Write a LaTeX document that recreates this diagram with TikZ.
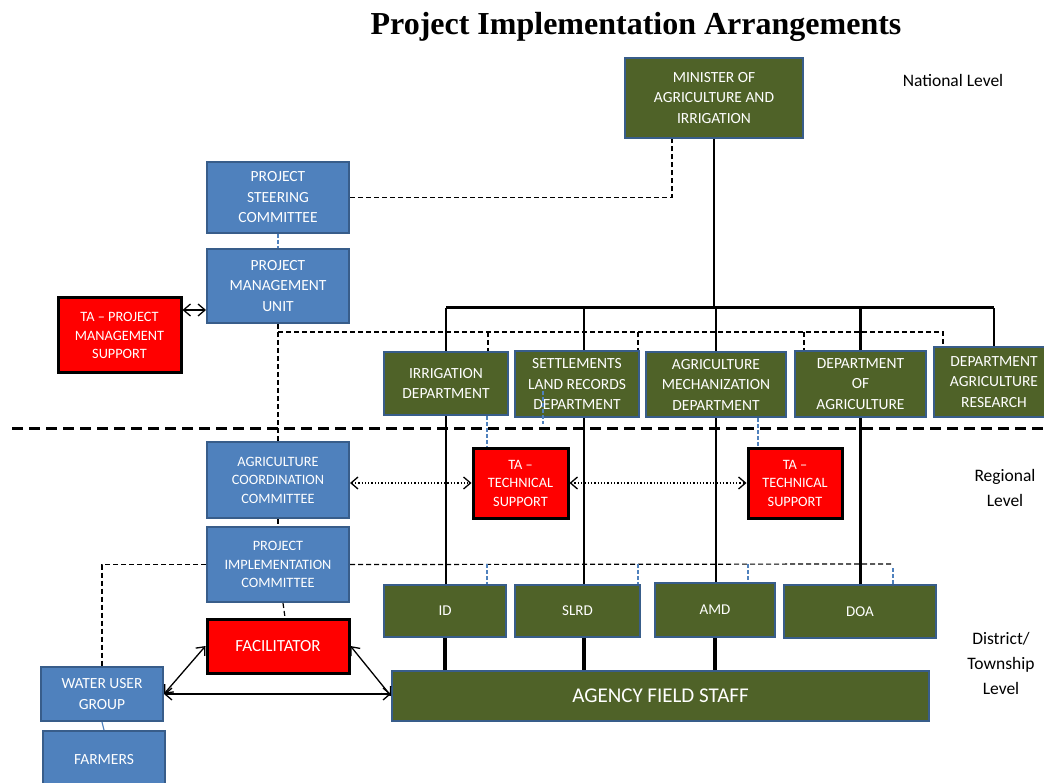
\documentclass[tikz,border=0pt]{standalone}
\usepackage{fontspec}
\setmainfont{Carlito}
\newfontfamily\titlefont{Liberation Serif}
\usetikzlibrary{arrows.meta}

\definecolor{olivebox}{HTML}{4F6228}
\definecolor{bluebox}{HTML}{4F81BD}
\definecolor{boxedge}{HTML}{385D8A}
\definecolor{tared}{HTML}{FF0000}

\begin{document}
\begin{tikzpicture}[x=1pt, y=-1pt,
    unit/.style={draw=boxedge, line width=2pt, text=white, align=center, inner sep=1pt},
    oliveunit/.style={unit, fill=olivebox},
    blueunit/.style={unit, fill=bluebox},
    redunit/.style={unit, fill=tared, draw=black, line width=3pt},
    bigtext/.style={font=\fontsize{15.5}{20.5}\selectfont},
    smalltext/.style={font=\fontsize{14.3}{18.5}\selectfont},
    lvltext/.style={font=\fontsize{17.5}{25}\selectfont, align=center},
    orgline/.style={line width=2.5pt},
    dashline/.style={dash pattern=on 5pt off 3pt, line width=1.2pt},
    bluedash/.style={draw=bluebox, dash pattern=on 4pt off 2pt, line width=1.2pt},
    link/.style={{Straight Barb[length=7pt,width=12pt]}-{Straight Barb[length=7pt,width=12pt]}, line width=1.3pt},
    dotlink/.style={link, dotted}]

  \useasboundingbox (0,0) rectangle (1044,783);
  \clip (0,0) rectangle (1044,783);

  \node[anchor=base, font=\titlefont\bfseries\fontsize{32}{36}\selectfont] (title) at (636,35) {Project Implementation Arrangements};

  % levels
  \node[lvltext] (national) at (953,80) {National Level};
  \node[lvltext] (regional) at (1005,488) {Regional\\Level};
  \node[lvltext] (district) at (1001,663) {District/\\Township\\Level};

  % national level
  \begin{scope}[every node/.append style={bigtext}]
    \node[oliveunit, minimum width=178, minimum height=80] (minister) at (714,98) {MINISTER OF\\AGRICULTURE AND\\IRRIGATION};
    \node[blueunit, minimum width=142, minimum height=71] (steer) at (278,197.5) {PROJECT\\STEERING\\COMMITTEE};
    \node[blueunit, minimum width=142, minimum height=74] (pmu) at (278,286) {PROJECT\\MANAGEMENT\\UNIT};
    \node[oliveunit, minimum width=124, minimum height=63] (irr) at (446,383.5) {IRRIGATION\\DEPARTMENT};
    \node[oliveunit, minimum width=124, minimum height=66] (slrdept) at (577,384) {SETTLEMENTS\\LAND RECORDS\\DEPARTMENT};
    \node[oliveunit, minimum width=140, minimum height=65] (amdept) at (716,384.5) {AGRICULTURE\\MECHANIZATION\\DEPARTMENT};
    \node[oliveunit, minimum width=131, minimum height=66] (doadept) at (860.5,384) {DEPARTMENT\\OF\\AGRICULTURE};
    \node[oliveunit, minimum width=120, minimum height=70] (research) at (994,382) {DEPARTMENT\\AGRICULTURE\\RESEARCH};
  \end{scope}
  \node[redunit, smalltext, minimum width=123, minimum height=75] (tapms) at (119.5,335.5) {TA -- PROJECT\\MANAGEMENT\\SUPPORT};

  % regional level
  \begin{scope}[every node/.append style={smalltext}]
    \node[blueunit, minimum width=142, minimum height=76] (acc) at (278,480) {AGRICULTURE\\COORDINATION\\COMMITTEE};
    \node[blueunit, minimum width=142, minimum height=75] (pic) at (278,564.5) {PROJECT\\IMPLEMENTATION\\COMMITTEE};
    \node[redunit, minimum width=95, minimum height=70] (ta1) at (520.5,483) {TA --\\TECHNICAL\\SUPPORT};
    \node[redunit, minimum width=94, minimum height=70] (ta2) at (795,483) {TA --\\TECHNICAL\\SUPPORT};
  \end{scope}

  % district level
  \begin{scope}[every node/.append style={font=\fontsize{15}{18}\selectfont}]
    \node[oliveunit, minimum width=122, minimum height=52] (id) at (445,611) {ID};
    \node[oliveunit, minimum width=125, minimum height=52] (slrd) at (577.5,611) {SLRD};
    \node[oliveunit, minimum width=120, minimum height=54] (amd) at (715,610) {AMD};
    \node[oliveunit, minimum width=152, minimum height=53] (doa) at (860,611.5) {DOA};
  \end{scope}
  \node[redunit, font=\fontsize{17}{20}\selectfont, minimum width=142, minimum height=54] (fac) at (278,646) {FACILITATOR};
  \node[blueunit, bigtext, minimum width=122, minimum height=54] (wug) at (102,694) {WATER USER\\GROUP};
  \node[blueunit, bigtext, minimum width=122, minimum height=58] (farmers) at (104,760) {FARMERS};
  \node[oliveunit, font=\fontsize{21}{24}\selectfont, minimum width=537, minimum height=50] (afs) at (660.5,696) {AGENCY FIELD STAFF};

  % line of command
  \coordinate (bus) at (714,308);
  \draw[line width=3pt] (irr.north |- bus) -- (research.north |- bus);
  \draw[orgline] (minister) -- (minister |- bus);
  \foreach \n in {irr,amdept,doadept,research}
    \draw[orgline] (\n.north) -- (\n.north |- bus);
  \draw[orgline] ([xshift=7pt]slrdept.north) -- ([xshift=7pt]slrdept.north |- bus);

  \draw[orgline] (irr.south) -- (irr.south |- id.north);
  \draw[orgline] ([xshift=7pt]slrdept.south) -- ([xshift=7pt]slrdept.south |- slrd.north);
  \draw[orgline] (amdept.south) -- (amdept.south |- amd.north);
  \draw[orgline] (doadept.south) -- (doadept.south |- doa.north);

  \draw[line width=4pt] (id.south) -- (id.south |- afs.north);
  \draw[line width=4pt] ([xshift=6.5pt]slrd.south) -- ([xshift=6.5pt]slrd.south |- afs.north);
  \draw[line width=4pt] (amd.south) -- (amd.south |- afs.north);

  % coordination links
  \coordinate (dashrow) at (278,332);
  \draw[dashline] (steer.east) -| ([xshift=-42pt]minister.south);
  \draw[dashline] (pmu.south) -- (acc.north);
  \draw[dashline] (pmu.south |- dashrow) -| ([xshift=-51pt]research.north);
  \draw[dashline] ([xshift=42pt]irr.north |- dashrow) -- ([xshift=42pt]irr.north);
  \draw[dashline] ([xshift=61pt]slrdept.north |- dashrow) -- ([xshift=61pt]slrdept.north);
  \draw[dashline] ([xshift=-56.5pt]doadept.north |- dashrow) -- ([xshift=-56.5pt]doadept.north);
  \draw[dashline] (acc.south) -- (pic.north);
  \draw[dashline] ([xshift=5pt]pic.south) -- ([xshift=7pt]fac.north);
  \draw[dashline] (pic.west) -| (wug.north);
  \coordinate (picend) at (891,564);
  \draw[dashline] (pic.east) -- (picend);

  \draw[bluedash] (steer.south) -- (pmu.north);
  \draw[bluedash] ([xshift=41pt]irr.south) -- ([xshift=41pt]irr.south |- ta1.north);
  \draw[bluedash] ([xshift=-34pt,yshift=27pt]slrdept.south) -- ([xshift=-34pt,yshift=-6pt]slrdept.south);
  \draw[bluedash] ([xshift=42pt]amdept.south) -- ([xshift=42pt]amdept.south |- ta2.north);
  \draw[bluedash] ([xshift=42pt]id.north |- picend) -- ([xshift=42pt]id.north);
  \draw[bluedash] ([xshift=60.5pt]slrd.north |- picend) -- ([xshift=60.5pt]slrd.north);
  \draw[bluedash] ([xshift=33pt]amd.north |- picend) -- ([xshift=33pt]amd.north);
  \draw[bluedash] ([xshift=33pt,yshift=-4pt]doa.north |- picend) -- ([xshift=33pt,yshift=-2pt]doa.north);
  \draw[draw=bluebox, line width=1.2pt] (wug.south) -- (farmers.north);

  % arrows
  \draw[link] ([yshift=25.5pt]tapms.east) -- ([yshift=25.5pt]tapms.east -| pmu.west);
  \draw[dotlink] (acc.east |- ta1.west) -- (ta1.west);
  \draw[dotlink] (ta1.east) -- (ta2.west);
  \draw[link] (wug.east) -- (fac.west);
  \draw[link] (fac.east) -- (afs.west);
  \draw[link] (wug.east) -- (wug.east -| afs.west);

  % level divider
  \coordinate (divL) at (12,428);
  \coordinate (divR) at (1044,428);
  \draw[line width=3pt, dash pattern=on 11pt off 6pt] (divL) -- (divR);
\end{tikzpicture}
\end{document}
